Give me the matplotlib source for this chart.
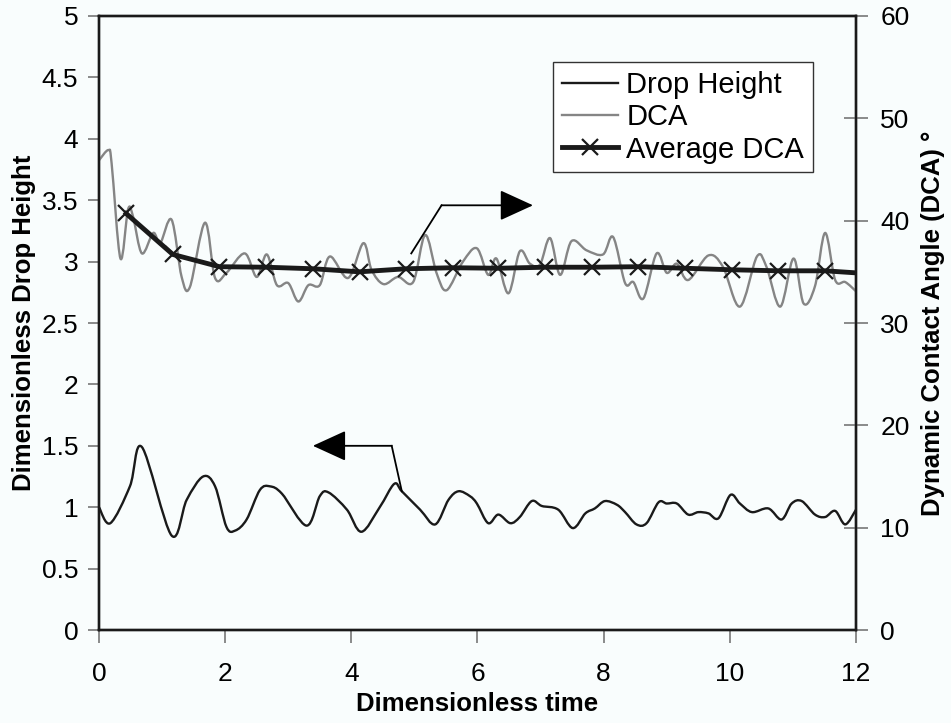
import matplotlib.pyplot as plt
from matplotlib.path import Path
from matplotlib.patches import PathPatch
from matplotlib.lines import Line2D
from matplotlib.ticker import MultipleLocator, FuncFormatter

# Drop height (left axis)
t_height = [0.00, 0.18, 0.49, 0.68, 1.15, 1.39, 1.65, 1.84, 2.02, 2.16, 2.34, 2.55,
            2.71, 2.90, 3.29, 3.50, 3.64, 3.93, 4.16, 4.45, 4.68, 4.80, 5.09, 5.33,
            5.54, 5.70, 5.88, 5.99, 6.17, 6.33, 6.52, 6.67, 6.86, 7.02, 7.28, 7.51,
            7.71, 7.86, 8.02, 8.21, 8.34, 8.52, 8.68, 8.87, 9.00, 9.16, 9.34, 9.50,
            9.66, 9.82, 10.01, 10.16, 10.35, 10.61, 10.82, 10.98, 11.14, 11.35, 11.51,
            11.67, 11.83, 12.00]
height = [1.00, 0.87, 1.17, 1.49, 0.77, 1.06, 1.25, 1.17, 0.84, 0.81, 0.90, 1.14,
          1.17, 1.11, 0.85, 1.09, 1.12, 0.98, 0.80, 1.00, 1.19, 1.13, 0.98, 0.86,
          1.06, 1.13, 1.09, 1.03, 0.87, 0.94, 0.87, 0.92, 1.05, 1.01, 0.98, 0.83,
          0.95, 0.99, 1.05, 1.02, 0.96, 0.86, 0.87, 1.04, 1.03, 1.03, 0.94, 0.96,
          0.95, 0.91, 1.10, 1.03, 0.96, 0.99, 0.90, 1.03, 1.05, 0.94, 0.92,
          0.97, 0.86, 0.98]

# Dynamic contact angle (right axis)
t_dca = [0.00, 0.15, 0.20, 0.34, 0.46, 0.54, 0.68, 0.86, 0.97, 1.15, 1.31, 1.44,
         1.68, 1.84, 2.02, 2.31, 2.50, 2.66, 2.82, 3.00, 3.16, 3.32, 3.50, 3.66,
         3.95, 4.19, 4.32, 4.51, 4.74, 4.98, 5.17, 5.35, 5.51, 5.77, 5.99, 6.17,
         6.30, 6.49, 6.67, 6.83, 6.99, 7.15, 7.31, 7.49, 7.73, 7.99, 8.15, 8.34,
         8.47, 8.63, 8.84, 9.00, 9.16, 9.34, 9.66, 9.89, 10.16, 10.43, 10.58, 10.80,
         11.01, 11.17, 11.35, 11.51, 11.67, 11.83, 12.00]
dca = [45.9, 46.9, 45.6, 36.3, 41.1, 40.4, 36.8, 38.8, 37.8, 40.1, 34.5, 33.5,
       39.8, 34.4, 34.9, 36.8, 34.5, 36.7, 33.7, 33.9, 32.1, 33.7, 33.7, 36.5,
       34.4, 37.8, 35.2, 33.8, 34.5, 34.0, 38.6, 34.9, 33.2, 36.0, 37.3, 34.7,
       36.3, 32.9, 37.0, 35.8, 35.7, 38.3, 34.7, 38.0, 37.1, 36.7, 38.4, 33.9,
       34.0, 32.4, 36.8, 34.9, 35.8, 34.2, 36.6, 35.5, 31.6, 36.5, 35.5, 31.6,
       36.3, 31.9, 33.6, 38.8, 34.2, 34.0, 33.1]

# Averaged contact angle
t_avg = [0.43, 1.17, 1.91, 2.65, 3.39, 4.13, 4.87, 5.61, 6.33, 7.07, 7.81, 8.55,
         9.29, 10.03, 10.77, 11.51, 12.00]
avg_dca = [40.7, 36.7, 35.5, 35.45, 35.3, 35.0, 35.3, 35.4, 35.35, 35.45, 35.45,
           35.5, 35.35, 35.2, 35.1, 35.1, 34.9]


def smooth_path(xs, ys):
    # spreadsheet-style smoothed line: cubic Bezier through every point
    n = len(xs)
    verts = [(xs[0], ys[0])]
    codes = [Path.MOVETO]
    for i in range(n - 1):
        x0, y0 = xs[max(i - 1, 0)], ys[max(i - 1, 0)]
        x3, y3 = xs[min(i + 2, n - 1)], ys[min(i + 2, n - 1)]
        c1 = (xs[i] + (xs[i + 1] - x0) / 6, ys[i] + (ys[i + 1] - y0) / 6)
        c2 = (xs[i + 1] - (x3 - xs[i]) / 6, ys[i + 1] - (y3 - ys[i]) / 6)
        verts += [c1, c2, (xs[i + 1], ys[i + 1])]
        codes += [Path.CURVE4] * 3
    return Path(verts, codes)


plt.rcParams['font.family'] = ['Liberation Sans', 'DejaVu Sans']

fig = plt.figure(figsize=(9.51, 7.23), dpi=100)
bg = '#f9fdfd'
fig.patch.set_facecolor(bg)
ax = fig.add_axes([0.1041, 0.1286, 0.796, 0.8493])
ax.set_facecolor(bg)
ax2 = ax.twinx()

dark = '#1a1a1a'
grey = '#858585'
ax.add_patch(PathPatch(smooth_path(t_height, height), fill=False, edgecolor=dark,
                       lw=1.7, capstyle='round', joinstyle='round'))
ax2.add_patch(PathPatch(smooth_path(t_dca, dca), fill=False, edgecolor=grey,
                        lw=1.7, capstyle='round', joinstyle='round'))
ax2.plot(t_avg, avg_dca, color=dark, lw=3.5, marker='x', ms=11, mew=1.6,
         markevery=list(range(len(t_avg) - 1)), zorder=3)

ax.set_xlim(0, 12)
ax.set_ylim(0, 5)
ax2.set_ylim(0, 60)
ax.xaxis.set_major_locator(MultipleLocator(2))
ax.yaxis.set_major_locator(MultipleLocator(0.5))
ax2.yaxis.set_major_locator(MultipleLocator(10))
ax.yaxis.set_major_formatter(FuncFormatter(lambda v, p: f'{v:g}'))

for a in (ax, ax2):
    for s in a.spines.values():
        s.set_linewidth(1.7)
        s.set_color(dark)
ax.tick_params(axis='x', direction='out', length=9, width=1.2, color='#777777',
               labelsize=19, pad=14)
ax.tick_params(axis='y', direction='out', length=8, width=1.2, color='#777777',
               labelsize=19, pad=7)
ax2.tick_params(axis='y', direction='inout', length=17, width=1.2, color='#777777',
                labelsize=19, pad=9)

ax.set_xlabel('Dimensionless time', fontsize=18.5, fontweight='bold', labelpad=4)
ax.set_ylabel('Dimensionless Drop Height', fontsize=18.5, fontweight='bold', labelpad=4)
ax2.set_ylabel('Dynamic Contact Angle (DCA) °', fontsize=18.5, fontweight='bold',
               labelpad=8)

# Arrows pointing each curve to its axis
arrow = dict(arrowstyle='-|>,head_length=1.05,head_width=0.48', color='black',
             lw=1.3, shrinkA=0, shrinkB=0, mutation_scale=20)
ax.plot([4.80, 4.64], [1.13, 1.50], color='black', lw=1.3)
ax.annotate('', xy=(3.39, 1.50), xytext=(4.64, 1.50), arrowprops=arrow)
ax2.plot([4.95, 5.43], [36.8, 41.5], color='black', lw=1.3)
ax2.annotate('', xy=(6.88, 41.5), xytext=(5.43, 41.5), arrowprops=arrow)

handles = [Line2D([], [], color=dark, lw=1.7),
           Line2D([], [], color=grey, lw=1.7),
           Line2D([], [], color=dark, lw=3.5, marker='x', ms=11, mew=1.6)]
labels = ['Drop Height', 'DCA', 'Average DCA']
leg = ax2.legend(handles, labels, loc='upper right', bbox_to_anchor=(0.943, 0.925),
                 fontsize=21, frameon=True, fancybox=False, edgecolor='#333333',
                 framealpha=1, handlelength=1.9, handletextpad=0.3, borderpad=0.3,
                 labelspacing=0.15, borderaxespad=0)
leg.get_frame().set_linewidth(1.0)

fig.savefig('out.png', dpi=100, facecolor=bg)
